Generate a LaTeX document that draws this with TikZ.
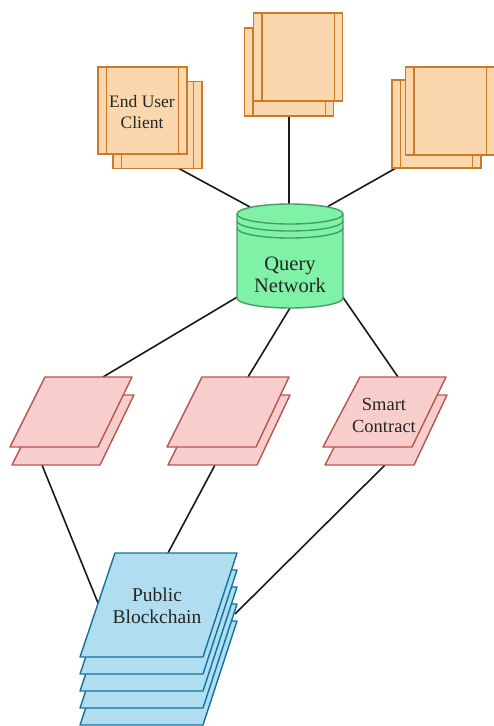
\documentclass[tikz,border=0pt]{standalone}
\usepackage{fontspec}
\setmainfont{Liberation Serif}
\definecolor{ofill}{HTML}{FAD7AC}
\definecolor{ostroke}{HTML}{CC7A26}
\definecolor{gfill}{HTML}{80F2A8}
\definecolor{gstroke}{HTML}{449E64}
\definecolor{pfill}{HTML}{F8CECC}
\definecolor{pstroke}{HTML}{B85450}
\definecolor{bfill}{HTML}{B1DDF0}
\definecolor{bstroke}{HTML}{10739E}
\tikzset{
  conn/.style={draw=black!90, line width=1.6pt},
  procbox/.style={draw=ostroke, fill=ofill, line width=1.4pt, rectangle, inner sep=0pt, minimum width=89pt, minimum height=87pt},
  procline/.style={draw=ostroke, line width=1.4pt},
  cyl/.style={draw=gstroke, fill=gfill, line width=1.4pt},
  cylline/.style={draw=gstroke, line width=1.4pt},
  para/.style={draw=pstroke, fill=pfill, line width=1.4pt, line join=round},
  chain/.style={draw=bstroke, fill=bfill, line width=1.4pt, line join=round},
  lbl/.style={align=center, inner sep=0pt, text=black!85}
}
\newcommand\procinner[1]{%
  \draw[procline] ([xshift=9pt]#1.north west) -- ([xshift=9pt]#1.south west);
  \draw[procline] ([xshift=-9pt]#1.north east) -- ([xshift=-9pt]#1.south east);}
\begin{document}
\begin{tikzpicture}[x=1pt,y=-1pt]
\useasboundingbox (0,0) rectangle (493,726);

% connector end points
\coordinate (c1b) at (178,168);
\coordinate (c2b) at (289,116);
\coordinate (c3b) at (396,168);
\coordinate (qtl) at (250,207);
\coordinate (qt) at (289,204);
\coordinate (qtr) at (327,207);
\coordinate (qbl) at (239,296);
\coordinate (qb) at (290,308);
\coordinate (qbr) at (342,296);
\coordinate (p1t) at (103,377);
\coordinate (p2t) at (248,377);
\coordinate (p3t) at (398,377);
\coordinate (p1b) at (42,465);
\coordinate (p2b) at (215,465);
\coordinate (p3b) at (385,465);
\coordinate (bcl) at (98,603);
\coordinate (bct) at (168,553);
\coordinate (bcr) at (235,614);

% connectors
\draw[conn] (c1b) -- (qtl);
\draw[conn] (c2b) -- (qt);
\draw[conn] (c3b) -- (qtr);
\draw[conn] (qbl) -- (p1t);
\draw[conn] (qb) -- (p2t);
\draw[conn] (qbr) -- (p3t);
\draw[conn] (p1b) -- (bcl);
\draw[conn] (p2b) -- (bct);
\draw[conn] (p3b) -- (bcr);

% orange boxes
\node[procbox] (c1back) at (157.5,125) {};
\procinner{c1back}
\node[procbox] (c1) at (142.5,110.5) {};
\procinner{c1}
\node[lbl, font=\fontsize{17.5}{21}\selectfont] (c1t) at (142,112.5) {End User\\Client};

\node[procbox, minimum height=88pt] (c2back) at (289,72) {};
\procinner{c2back}
\node[procbox, minimum height=88pt] (c2) at (298,57) {};
\procinner{c2}

\node[procbox, minimum height=88pt] (c3back) at (436.5,124) {};
\procinner{c3back}
\node[procbox, minimum height=88pt] (c3) at (450,111) {};
\procinner{c3}

% cylinder
\path[cyl] (237,214) -- (237,298)
  arc[start angle=180,end angle=360,x radius=53pt,y radius=10pt]
  -- (343,214)
  arc[start angle=0,end angle=180,x radius=53pt,y radius=10pt] -- cycle;
\draw[cylline] (237,214) arc[start angle=180,end angle=360,x radius=53pt,y radius=10pt];
\draw[cylline] (237,221) arc[start angle=180,end angle=360,x radius=53pt,y radius=10pt];
\draw[cylline] (237,228) arc[start angle=180,end angle=360,x radius=53pt,y radius=10pt];
\node[lbl, font=\fontsize{20.5}{22}\selectfont] (qn) at (290,275) {Query\\Network};

% parallelograms
\draw[para] (47,395) -- (134,395) -- (100,465) -- (12,465) -- cycle;
\draw[para] (45,377) -- (132,377) -- (98,447) -- (10,447) -- cycle;
\draw[para] (203,395) -- (290,395) -- (257,465) -- (168,465) -- cycle;
\draw[para] (202,377) -- (289,377) -- (256,447) -- (167,447) -- cycle;
\draw[para] (361,395) -- (447,395) -- (414,465) -- (325,465) -- cycle;
\draw[para] (360,377) -- (446,377) -- (412,447) -- (323,447) -- cycle;
\node[lbl, font=\fontsize{18.5}{22}\selectfont] (sc) at (384,415) {Smart\\Contract};

% blockchain stack
\foreach \o in {68,51,34,17,0}{
  \draw[chain] (115,553+\o) -- (237,553+\o) -- (203,657+\o) -- (80,657+\o) -- cycle;
}
\node[lbl, font=\fontsize{19.5}{22}\selectfont] (pb) at (157,606) {Public\\Blockchain};
\end{tikzpicture}
\end{document}
